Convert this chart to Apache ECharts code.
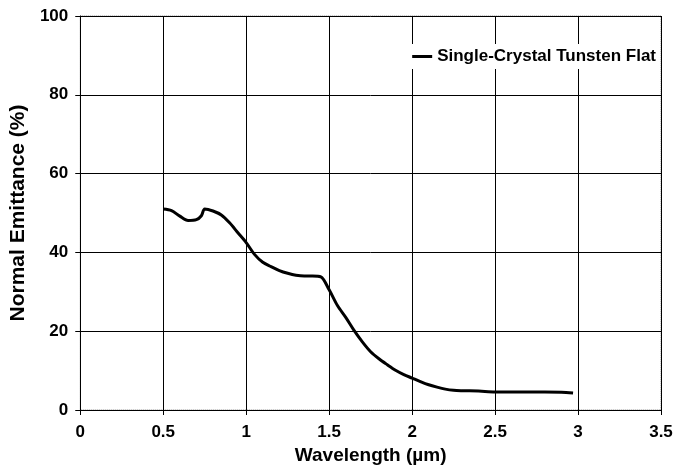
<!DOCTYPE html>
<html><head><meta charset="utf-8">
<script src="https://cdn.jsdelivr.net/npm/echarts@6/dist/echarts.min.js"></script>
<style>html,body{margin:0;padding:0;background:#fff}#c{width:676px;height:470px}</style>
</head><body><div id="c"></div>
<script>
const wavelength = [0.5,0.55,0.6,0.65,0.7,0.73,0.75,0.8,0.85,0.9,0.95,1.0,1.05,1.1,1.15,1.2,1.25,1.3,1.35,1.4,1.45,1.5,1.55,1.6,1.65,1.7,1.75,1.8,1.85,1.9,1.95,2.0,2.05,2.1,2.15,2.2,2.25,2.3,2.4,2.5,2.6,2.7,2.8,2.9,2.97];
const emittance = [51,50.6,49.2,48.1,48.3,49.3,51,50.5,49.5,47.5,45,42.5,39.5,37.5,36.4,35.4,34.7,34.2,34.0,34.0,33.8,30.5,26.5,23.5,20.2,17.3,14.8,13.0,11.5,10.1,9.0,8.1,7.2,6.4,5.8,5.3,5.0,4.9,4.8,4.6,4.6,4.6,4.6,4.5,4.3];
const seriesName = 'Single-Crystal Tunsten Flat';
const data = wavelength.map((w,i)=>[w, emittance[i]]);
const chart = echarts.init(document.getElementById('c'));
const font = 'Liberation Sans, Arial, sans-serif';
chart.setOption({
  animation:false,
  grid:{left:79,right:15,top:16,bottom:60,show:true,borderColor:'#777',borderType:'dotted',borderWidth:1},
  legend:{show:true,right:18,top:44,backgroundColor:'#fff',padding:[4,2,4,2],itemWidth:20,itemHeight:3,itemGap:2,icon:'rect',
    textStyle:{fontFamily:font,fontWeight:'bold',fontSize:17,color:'#000'},data:[seriesName]},
  xAxis:{type:'value',min:0,max:3.5,interval:0.5,
    name:'Wavelength (µm)',nameLocation:'middle',nameGap:36,
    nameTextStyle:{fontFamily:font,fontWeight:'bold',fontSize:19,color:'#000'},
    axisLine:{show:true,lineStyle:{color:'#000',width:1}},
    axisTick:{show:true,length:5,lineStyle:{color:'#000'}},
    axisLabel:{fontFamily:font,fontWeight:'bold',fontSize:17,color:'#000',margin:14},
    splitLine:{show:true,lineStyle:{color:'#000',width:1}}},
  yAxis:{type:'value',min:0,max:100,interval:20,
    name:'Normal Emittance (%)',nameLocation:'middle',nameGap:44,
    nameTextStyle:{fontFamily:font,fontWeight:'bold',fontSize:21,color:'#000'},
    axisLine:{show:true,lineStyle:{color:'#000',width:1}},
    axisTick:{show:true,length:5,lineStyle:{color:'#000'}},
    axisLabel:{fontFamily:font,fontWeight:'bold',fontSize:17,color:'#000',margin:12},
    splitLine:{show:true,lineStyle:{color:'#000',width:1}}},
  series:[{name:seriesName,type:'line',data:data,symbol:'none',smooth:0.3,
    lineStyle:{color:'#000',width:3},itemStyle:{color:'#000'}}]
});
</script></body></html>
